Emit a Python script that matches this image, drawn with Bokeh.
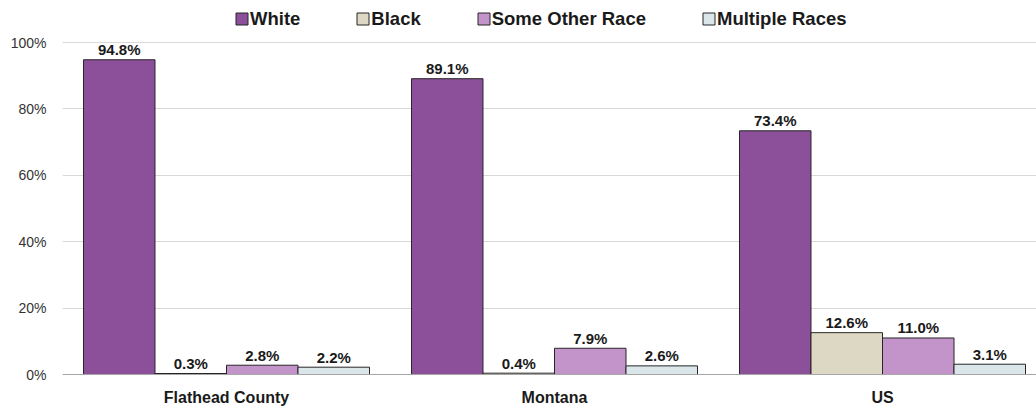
from bokeh.plotting import figure
from bokeh.models import ColumnDataSource, Range1d, FixedTicker, PrintfTickFormatter, Legend, LegendItem
from bokeh.transform import dodge
from bokeh.core.properties import value
from bokeh.embed import file_html
from bokeh.resources import INLINE

# ---- data ----
categories = ["Flathead County", "Montana", "US"]
series = ["White", "Black", "Some Other Race", "Multiple Races"]
white = [94.8, 89.1, 73.4]
black = [0.3, 0.4, 12.6]
other_race = [2.8, 7.9, 11.0]
multiple = [2.2, 2.6, 3.1]
y_ticks = [0, 20, 40, 60, 80, 100]

# ---- styles ----
colors = ["#8c4f99", "#ddd8c3", "#c394c9", "#dbe6ea"]
offsets = [-0.327, -0.109, 0.109, 0.327]
BAR_W = 0.218
FONT = "Liberation Sans"

centers = [i + 0.5 for i in range(len(categories))]

p = figure(width=1036, height=411,
           x_range=Range1d(0, 974 / 328), y_range=Range1d(0, 374 / 3.32),
           output_backend="svg", toolbar_location=None,
           min_border_left=62, min_border_right=0, min_border_top=0, min_border_bottom=37)
p.outline_line_color = None
p.background_fill_color = "white"
p.xgrid.grid_line_color = None
p.ygrid.grid_line_color = "#d9d9d9"
p.ygrid.grid_line_width = 1

renderers = []
for name, vals, col, off in zip(series, [white, black, other_race, multiple], colors, offsets):
    src = ColumnDataSource(dict(x=centers, top=vals, label=[f"{v:.1f}%" for v in vals]))
    r = p.vbar(x=dodge("x", off, range=p.x_range), top="top", bottom=0, width=BAR_W, source=src,
               fill_color=col, line_color="#262626", line_width=1)
    renderers.append(r)
    p.text(x=dodge("x", off, range=p.x_range), y="top", text="label", source=src,
           text_align="center", text_baseline="alphabetic", y_offset=-10,
           text_font=value(FONT), text_font_style="bold", text_font_size="15px", text_color="#1a1a1a")

# y axis
p.yaxis.ticker = FixedTicker(ticks=y_ticks)
p.yaxis.formatter = PrintfTickFormatter(format="%d%%")
p.yaxis.axis_line_color = None
p.yaxis.major_tick_line_color = None
p.yaxis.minor_tick_line_color = None
p.yaxis.major_tick_out = 0
p.yaxis.major_tick_in = 0
p.yaxis.major_label_standoff = 16
p.yaxis.major_label_text_font = FONT
p.yaxis.major_label_text_font_size = "14px"
p.yaxis.major_label_text_color = "#333333"

# x axis
p.xaxis.ticker = FixedTicker(ticks=centers)
p.xaxis.major_label_overrides = {c: n for c, n in zip(centers, categories)}
p.xaxis.axis_line_color = "#a6a6a6"
p.xaxis.axis_line_width = 1
p.xaxis.major_tick_line_color = None
p.xaxis.minor_tick_line_color = None
p.xaxis.major_tick_out = 0
p.xaxis.major_tick_in = 0
p.xaxis.major_label_standoff = 14
p.xaxis.major_label_text_font = FONT
p.xaxis.major_label_text_font_style = "bold"
p.xaxis.major_label_text_font_size = "16px"
p.xaxis.major_label_text_color = "#1a1a1a"

legend = Legend(items=[LegendItem(label=s, renderers=[r]) for s, r in zip(series, renderers)],
                orientation="horizontal", location=(172, 344.5), padding=0, margin=0, spacing=55,
                glyph_width=15, glyph_height=15, label_standoff=1, label_height=20,
                label_text_font=FONT, label_text_font_style="bold", label_text_font_size="18.5px",
                label_text_color="#1a1a1a", background_fill_alpha=0, border_line_alpha=0)
p.add_layout(legend)

open("out.html", "w").write(file_html(p, INLINE))
